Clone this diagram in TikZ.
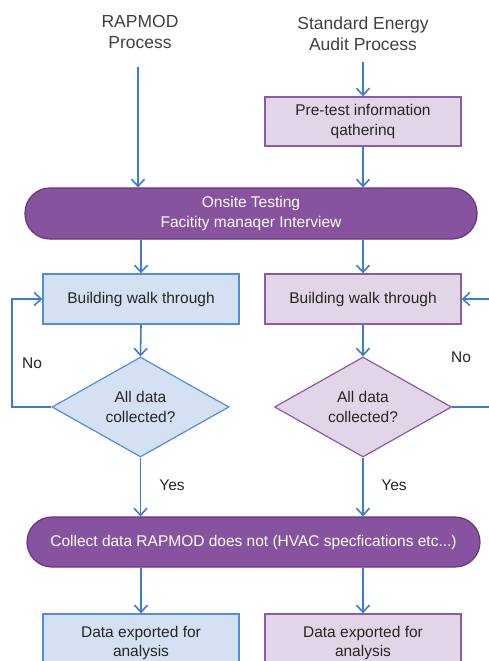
\documentclass[tikz,border=0pt]{standalone}
\usepackage{fontspec}
\setmainfont{Liberation Sans}
\usetikzlibrary{arrows.meta,shapes.geometric}
\definecolor{conn}{RGB}{58,124,216}
\definecolor{bluefill}{RGB}{212,225,243}
\definecolor{blueedge}{RGB}{84,140,220}
\definecolor{purpfill}{RGB}{226,213,232}
\definecolor{purpedge}{RGB}{140,90,166}
\definecolor{pillfill}{RGB}{136,83,158}
\definecolor{pilledge}{RGB}{104,52,128}
\definecolor{txt}{RGB}{38,38,38}
\tikzset{
  x=1pt, y=-1pt,
  every node/.style={font=\fontsize{15.5}{19.5}\selectfont, text=txt, align=center},
  arr/.style={draw=conn, line width=1.6pt, -{Straight Barb[length=7pt,width=13pt,line width=1.6pt]}},
  ln/.style={draw=conn, line width=1.6pt},
  bluebox/.style={draw=blueedge, fill=bluefill, line width=1.4pt, minimum width=196pt, minimum height=50pt, inner sep=0pt},
  purpbox/.style={draw=purpedge, fill=purpfill, line width=1.4pt, minimum width=196pt, minimum height=50pt, inner sep=0pt},
  bluedia/.style={diamond, draw=blueedge, fill=bluefill, line width=1.2pt, minimum width=177pt, minimum height=100pt, inner sep=0pt, aspect=1.77},
  purpdia/.style={diamond, draw=purpedge, fill=purpfill, line width=1.2pt, minimum width=177pt, minimum height=100pt, inner sep=0pt, aspect=1.77},
  pill/.style={draw=pilledge, fill=pillfill, line width=1.2pt, rounded corners=25pt, minimum height=51pt, inner sep=0pt, text=white},
  head/.style={font=\fontsize{17.5}{20.5}\selectfont, text={rgb,255:red,64;green,64;blue,64}},
  lbl/.style={inner sep=0pt}
}
\begin{document}
\begin{tikzpicture}
\clip (0,0) rectangle (489,661);
\fill[white] (0,0) rectangle (489,661);
% headers
\node[head] (hl) at (140,32) {RAPMOD\\Process};
\node[head] (hr) at (363,33.5) {Standard Energy\\Audit Process};
\coordinate (sl) at (138,67);
\coordinate (sr) at (363,62);
% nodes
\node[purpbox, minimum height=49pt] (pre) at (363,121.5) {Pre-test information\\qatherinq};
\node[pill, minimum width=452pt] (onsite) at (251,213.5) {Onsite Testing\\Facitity manaqer Interview};
\node[bluebox] (lbw) at (141,299) {Building walk through};
\node[purpbox] (rbw) at (363,299) {Building walk through};
\node[bluedia] (ld) at (140.5,407) {All data\\collected?};
\node[purpdia] (rd) at (363,407) {All data\\collected?};
\node[pill, minimum width=453pt, minimum height=50pt] (col) at (253.5,542) {Collect data RAPMOD does not (HVAC specfications etc...)};
\node[bluebox, minimum height=58pt] (lex) at (141,643) {Data exported for\\analysis};
\node[purpbox, minimum height=58pt] (rex) at (363,643) {Data exported for\\analysis};
% connectors
\draw[arr] (sl) -- (sl |- onsite.north);
\draw[arr] (sr) -- (pre.north);
\draw[arr] (pre.south) -- (pre.south |- onsite.north);
\draw[arr] (onsite.south -| lbw.north) -- (lbw.north);
\draw[arr] (onsite.south -| rbw.north) -- (rbw.north);
\draw[arr] (lbw.south) -- (ld.north);
\draw[arr] (rbw.south) -- (rd.north);
\coordinate (lloop) at (12,407);
\coordinate (rloop) at (496,407);
\draw[arr] (ld.west) -- (lloop) |- (lbw.west);
\draw[arr] (rd.east) -- (rloop) |- (rbw.east);
\draw[arr] (ld.south) -- (ld.south |- col.north);
\draw[arr] (rd.south) -- (rd.south |- col.north);
\draw[arr] (col.south -| lex.north) -- (lex.north);
\draw[arr] (col.south -| rex.north) -- (rex.north);
% labels
\node[lbl] (nol) at (32,363) {No};
\node[lbl] (nor) at (461,357) {No};
\node[lbl] (yl) at (172,485) {Yes};
\node[lbl] (yr) at (394,485) {Yes};
\end{tikzpicture}
\end{document}
